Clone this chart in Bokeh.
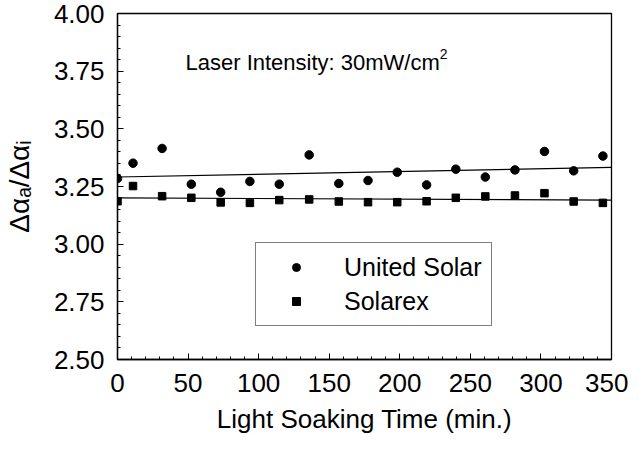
import numpy as np
from bokeh.plotting import figure
from bokeh.models import Range1d, FixedTicker, Label, Legend, LegendItem, NumeralTickFormatter
from bokeh.embed import file_html
from bokeh.resources import INLINE

# ---- data ----
time_min = [0, 11, 31.6, 52.3, 73.1, 93.8, 114.6, 135.8, 156.8, 177.5,
            198.2, 219, 239.7, 260.6, 281.6, 302.5, 323.2, 343.9]
united_solar = [3.285, 3.351, 3.415, 3.260, 3.225, 3.272, 3.260, 3.387, 3.263,
                3.276, 3.312, 3.257, 3.325, 3.291, 3.322, 3.402, 3.318, 3.382]
solarex = [3.186, 3.252, 3.208, 3.201, 3.181, 3.179, 3.191, 3.194, 3.185,
           3.182, 3.182, 3.186, 3.201, 3.207, 3.211, 3.221, 3.185, 3.179]

x_ticks = [0, 50, 100, 150, 200, 250, 300, 350]
x_minor = list(range(0, 351, 10))
y_ticks = [2.50, 2.75, 3.00, 3.25, 3.50, 3.75, 4.00]
y_minor = [round(2.5 + 0.05 * i, 2) for i in range(31)]
x_limits = [0, 350]
y_limits = [2.5, 4.0]
series_names = ["United Solar", "Solarex"]

FONT = "Liberation Sans"

p = figure(width=628, height=438,
           x_range=Range1d(*x_limits), y_range=Range1d(*y_limits),
           output_backend="svg", toolbar_location=None,
           min_border_left=116, min_border_right=17,
           min_border_top=13, min_border_bottom=79,
           background_fill_color="white", border_fill_color="white")
p.grid.visible = False
p.outline_line_color = "black"
p.outline_line_width = 1.3

# linear fits
xl = np.array(x_limits, dtype=float)
k1 = np.polyfit(time_min, united_solar, 1)
k2 = np.polyfit(time_min, solarex, 1)
p.line(xl, np.polyval(k1, xl), line_color="black", line_width=1.2)
p.line(xl, np.polyval(k2, xl), line_color="black", line_width=1.2)

r1 = p.scatter(time_min, united_solar, marker="circle", size=8.5,
               fill_color="black", line_color="black")
r2 = p.scatter(time_min, solarex, marker="square", size=7.5,
               fill_color="black", line_color="black")

for ax in (p.xaxis[0], p.yaxis[0]):
    ax.axis_line_color = "black"
    ax.axis_line_width = 1.3
    ax.major_tick_in = 6
    ax.major_tick_out = 0
    ax.minor_tick_in = 3
    ax.minor_tick_out = 0
    ax.major_tick_line_color = "black"
    ax.minor_tick_line_color = "black"
    ax.major_label_text_font = FONT
    ax.major_label_text_font_size = "26px"
    ax.major_label_text_color = "black"
    ax.axis_label_text_font = FONT
    ax.axis_label_text_font_style = "normal"
    ax.axis_label_text_color = "black"

p.xaxis.ticker = FixedTicker(ticks=x_ticks, minor_ticks=x_minor)
p.yaxis.ticker = FixedTicker(ticks=y_ticks, minor_ticks=y_minor)
p.yaxis.formatter = NumeralTickFormatter(format="0.00")
p.xaxis.major_label_standoff = 14
p.yaxis.major_label_standoff = 13

p.xaxis.axis_label = "Light Soaking Time (min.)"
p.xaxis.axis_label_text_font_size = "26px"
p.xaxis.axis_label_standoff = 9

p.yaxis.axis_label = "\u0394\u03b1\u2090/\u0394\u03b1\u1d62"
p.yaxis.axis_label_text_font_size = "28px"
p.yaxis.axis_label_standoff = 16

# annotation
p.add_layout(Label(x=68, y=297, x_units="screen", y_units="screen",
                   text="Laser Intensity: 30mW/cm", text_font=FONT,
                   text_font_size="22px", text_color="black",
                   text_baseline="alphabetic"))
p.add_layout(Label(x=68 + 11.559 * 22, y=306, x_units="screen", y_units="screen",
                   text="2", text_font=FONT,
                   text_font_size="14px", text_color="black",
                   text_baseline="alphabetic"))

legend = Legend(items=[LegendItem(label=series_names[0], renderers=[r1]),
                       LegendItem(label=series_names[1], renderers=[r2])],
                location=(138, 33))
legend.border_line_color = "black"
legend.border_line_width = 1
legend.background_fill_color = "white"
legend.background_fill_alpha = 1
legend.label_text_font = FONT
legend.label_text_font_size = "25px"
legend.label_text_color = "black"
legend.padding = 9
legend.spacing = 4
legend.margin = 0
legend.glyph_width = 62
legend.glyph_height = 20
legend.label_height = 30
legend.label_standoff = 17
p.add_layout(legend, "center")

open("out.html", "w").write(file_html(p, INLINE))
